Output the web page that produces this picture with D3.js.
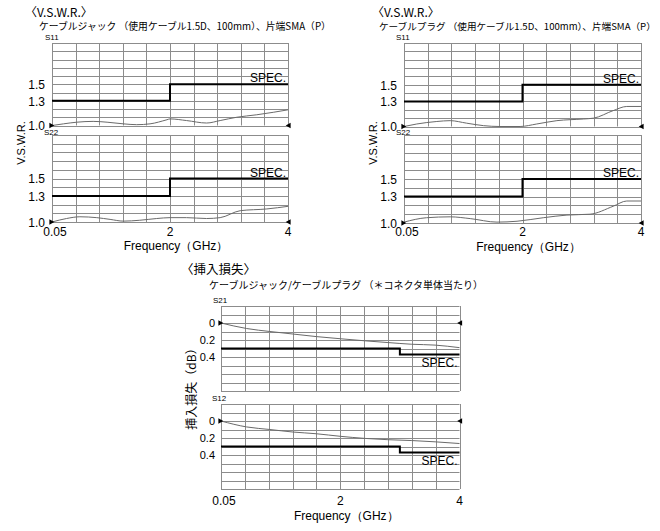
<!DOCTYPE html>
<html>
<head>
<meta charset="utf-8">
<script src="https://cdn.jsdelivr.net/npm/d3@7"></script>
<style>
  body { margin: 0; background: #fff; }
  svg { display: block; }
  text { font-family: "Liberation Sans", Arial, sans-serif; fill: #000; }
  .jp { font-family: "Noto Sans CJK JP", sans-serif; }
</style>
</head>
<body>
<div id="chart"></div>
<script>
// tick labels
const freqTickVals = [0.05, 2, 4];
const freqTickLabels = ["0.05", "2", "4"];
const vswrTicks = [1.0, 1.3, 1.5];
const vswrTickLabels = ["1.0", "1.3", "1.5"];
const lossTicks = [0, 0.2, 0.4];
const lossTickLabels = ["0", "0.2", "0.4"];

// spec limits
const vswrSpecFreq = [0.05, 2, 2, 4];
const vswrSpec = [1.3, 1.3, 1.5, 1.5];
const lossSpecFreq = [0.05, 3, 3, 4];
const lossSpec = [0.3, 0.3, 0.37, 0.37];

// cable jack VSWR
const jackS11Freq = [0.05, 0.24, 0.46, 0.73, 0.96, 1.23, 1.45, 1.67, 1.95, 2.0, 2.28, 2.62, 2.85, 3.13, 3.47, 3.75, 4.0];
const jackS11 = [1.0, 1.02, 1.04, 1.05, 1.04, 1.02, 1.01, 1.02, 1.07, 1.08, 1.06, 1.03, 1.06, 1.10, 1.13, 1.16, 1.19];
const jackS22Freq = [0.05, 0.29, 0.51, 0.79, 1.01, 1.23, 1.5, 1.78, 2.0, 2.28, 2.62, 2.85, 3.19, 3.64, 4.0];
const jackS22 = [1.0, 1.04, 1.06, 1.05, 1.03, 1.01, 1.02, 1.04, 1.05, 1.05, 1.04, 1.05, 1.13, 1.15, 1.18];

// cable plug VSWR
const plugS11Freq = [0.05, 0.26, 0.59, 0.81, 1.08, 1.36, 1.63, 1.96, 2.24, 2.58, 3.03, 3.2, 3.53, 3.76, 4.0];
const plugS11 = [1.0, 1.03, 1.06, 1.07, 1.04, 1.01, 1.0, 1.0, 1.03, 1.07, 1.09, 1.10, 1.19, 1.24, 1.24];
const plugS22Freq = [0.05, 0.42, 0.81, 1.14, 1.58, 1.91, 2.35, 2.75, 3.14, 3.53, 3.76, 4.0];
const plugS22 = [1.01, 1.06, 1.07, 1.05, 1.01, 1.02, 1.06, 1.09, 1.10, 1.19, 1.25, 1.25];

// insertion loss (dB)
const lossFreq = [0.05, 0.47, 0.85, 1.23, 1.61, 2.0, 2.42, 2.8, 3.2, 3.59, 4.0];
const lossS21 = [0, 0.065, 0.10, 0.13, 0.16, 0.185, 0.21, 0.23, 0.25, 0.26, 0.29];
const lossS12 = [0, 0.07, 0.10, 0.13, 0.15, 0.18, 0.205, 0.22, 0.23, 0.245, 0.265];

const W = 660, H = 531;
const svg = d3.select("#chart").append("svg").attr("width", W).attr("height", H);

function drawPanel(p) {
    const x = d3.scaleLinear().domain([0.05, 2, 4]).range([p.x0, (p.x0 + p.x1) / 2, p.x1]);
    const y = d3.scaleLinear().domain(p.yDomain).range([p.y1, p.y0]);
    const gx = d3.scaleLinear().domain([0, 10]).range([p.x0, p.x1]);
    const g = svg.append("g");

    // grid
    g.selectAll(".vg").data(d3.range(0, 11)).enter().append("line")
        .attr("x1", d => Math.round(gx(d)) + 0.5).attr("x2", d => Math.round(gx(d)) + 0.5)
        .attr("y1", p.y0).attr("y2", p.y1)
        .attr("stroke", "#8c8c8c").attr("stroke-width", 1);
    g.selectAll(".hg").data(d3.range(0, 11)).enter().append("line")
        .attr("x1", p.x0).attr("x2", p.x1)
        .attr("y1", d => Math.round(p.y0 + (p.y1 - p.y0) * d / 10) + 0.5)
        .attr("y2", d => Math.round(p.y0 + (p.y1 - p.y0) * d / 10) + 0.5)
        .attr("stroke", "#8c8c8c").attr("stroke-width", 1);

    // spec line
    const specLine = d3.line().x((d, i) => x(p.specFreq[i])).y(d => y(d));
    g.append("path").datum(p.spec)
        .attr("d", specLine)
        .attr("fill", "none").attr("stroke", "#000").attr("stroke-width", 2);

    // measured curve
    const curve = d3.line().x((d, i) => x(p.freq[i])).y(d => y(d)).curve(d3.curveMonotoneX);
    g.append("path").datum(p.values)
        .attr("d", curve)
        .attr("fill", "none").attr("stroke", "#6a6a6a").attr("stroke-width", 1);

    // reference markers
    const tri = d3.symbol().type(d3.symbolTriangle).size(14);
    g.append("path").attr("d", tri)
        .attr("transform", `translate(${p.x0 - 1},${y(p.ref)}) rotate(90)`);
    g.append("path").attr("d", tri)
        .attr("transform", `translate(${p.x1 + 1},${y(p.ref)}) rotate(-90)`);

    // y tick labels
    g.selectAll(".yt").data(p.ticks).enter().append("text")
        .attr("x", p.x0 - p.tickGap).attr("y", d => y(d))
        .attr("dy", "0.4em")
        .attr("text-anchor", "end")
        .style("font-size", p.tickSize + "px")
        .text((d, i) => p.tickLabels[i]);

    // series name
    g.append("text")
        .attr("x", p.nameX).attr("y", p.y0 - p.nameDy)
        .style("font-size", "8px")
        .text(p.name);

    // SPEC label
    const specEnd = p.spec[p.spec.length - 1];
    g.append("text")
        .attr("x", p.x1 - 2).attr("y", y(specEnd) + p.specDy)
        .attr("text-anchor", "end")
        .style("font-size", "12px")
        .text("SPEC.");

    return x;
}

function xAxisLabels(x, yPos, labelY) {
    const g = svg.append("g");
    g.selectAll("text").data(freqTickVals).enter().append("text")
        .attr("x", d => x(d) + (d === 0.05 ? 3 : 0)).attr("y", yPos)
        .attr("text-anchor", "middle")
        .style("font-size", "12px")
        .text((d, i) => freqTickLabels[i]);
    const r = x.range();
    g.append("text")
        .attr("x", (r[0] + r[2]) / 2 + 6).attr("y", labelY)
        .attr("text-anchor", "middle")
        .style("font-size", "12px")
        .text("Frequency（GHz）");
}

function title(xPos, yPos, txt, size) {
    svg.append("text").attr("class", "jp")
        .attr("x", xPos).attr("y", yPos)
        .style("font-size", size + "px")
        .text(txt);
}

function yTitle(cx, cy, txt, size, cls) {
    svg.append("text").attr("class", cls || null)
        .attr("transform", `translate(${cx},${cy}) rotate(-90)`)
        .attr("text-anchor", "middle").attr("dy", "0.35em")
        .style("font-size", size + "px")
        .text(txt);
}

// ---- V.S.W.R. (cable jack) ----
title(25, 17, "〈V.S.W.R.〉", 12);
title(39, 30, "ケーブルジャック （使用ケーブル1.5D、100mm）、片端SMA（P）", 9.8);
const vswrBase = { yDomain: [1.0, 2.0], ticks: vswrTicks, tickLabels: vswrTickLabels, tickGap: 7, tickSize: 12,
    specFreq: vswrSpecFreq, spec: vswrSpec, ref: 1.0, specDy: -2 };
drawPanel({ ...vswrBase, x0: 52, x1: 288, y0: 43, y1: 125.5, freq: jackS11Freq, values: jackS11, name: "S11", nameX: 45, nameDy: 3 });
const xJ = drawPanel({ ...vswrBase, x0: 52, x1: 288, y0: 135, y1: 222, freq: jackS22Freq, values: jackS22, name: "S22", nameX: 44, nameDy: 0 });
xAxisLabels(xJ, 236, 250);
yTitle(21, 143, "V.S.W.R.", 11);

// ---- V.S.W.R. (cable plug) ----
title(372, 17, "〈V.S.W.R.〉", 12);
title(379, 30, "ケーブルプラグ （使用ケーブル1.5D、100mm）、片端SMA（P）", 9.6);
drawPanel({ ...vswrBase, x0: 404, x1: 641, y0: 43, y1: 126.5, freq: plugS11Freq, values: plugS11, name: "S11", nameX: 396, nameDy: 3 });
const xP = drawPanel({ ...vswrBase, x0: 404, x1: 641, y0: 135, y1: 223, freq: plugS22Freq, values: plugS22, name: "S22", nameX: 396, nameDy: 0 });
xAxisLabels(xP, 236, 251);
yTitle(373, 143, "V.S.W.R.", 11);

// ---- insertion loss ----
title(181, 274, "〈挿入損失〉", 12.5);
title(209, 289, "ケーブルジャック/ケーブルプラグ （＊コネクタ単体当たり）", 10);
const lossBase = { yDomain: [0.8, -0.2], ticks: lossTicks, tickLabels: lossTickLabels, tickGap: 6, tickSize: 11,
    specFreq: lossSpecFreq, spec: lossSpec, ref: 0, specDy: 13 };
drawPanel({ ...lossBase, x0: 221, x1: 459.5, y0: 306, y1: 391, freq: lossFreq, values: lossS21, name: "S21", nameX: 213, nameDy: 3 });
const xL = drawPanel({ ...lossBase, x0: 221, x1: 459.5, y0: 404, y1: 489, freq: lossFreq, values: lossS12, name: "S12", nameX: 212, nameDy: 3 });
xAxisLabels(xL, 505, 520);
yTitle(192, 386, "挿入損失（dB）", 12, "jp");
</script>
</body>
</html>
